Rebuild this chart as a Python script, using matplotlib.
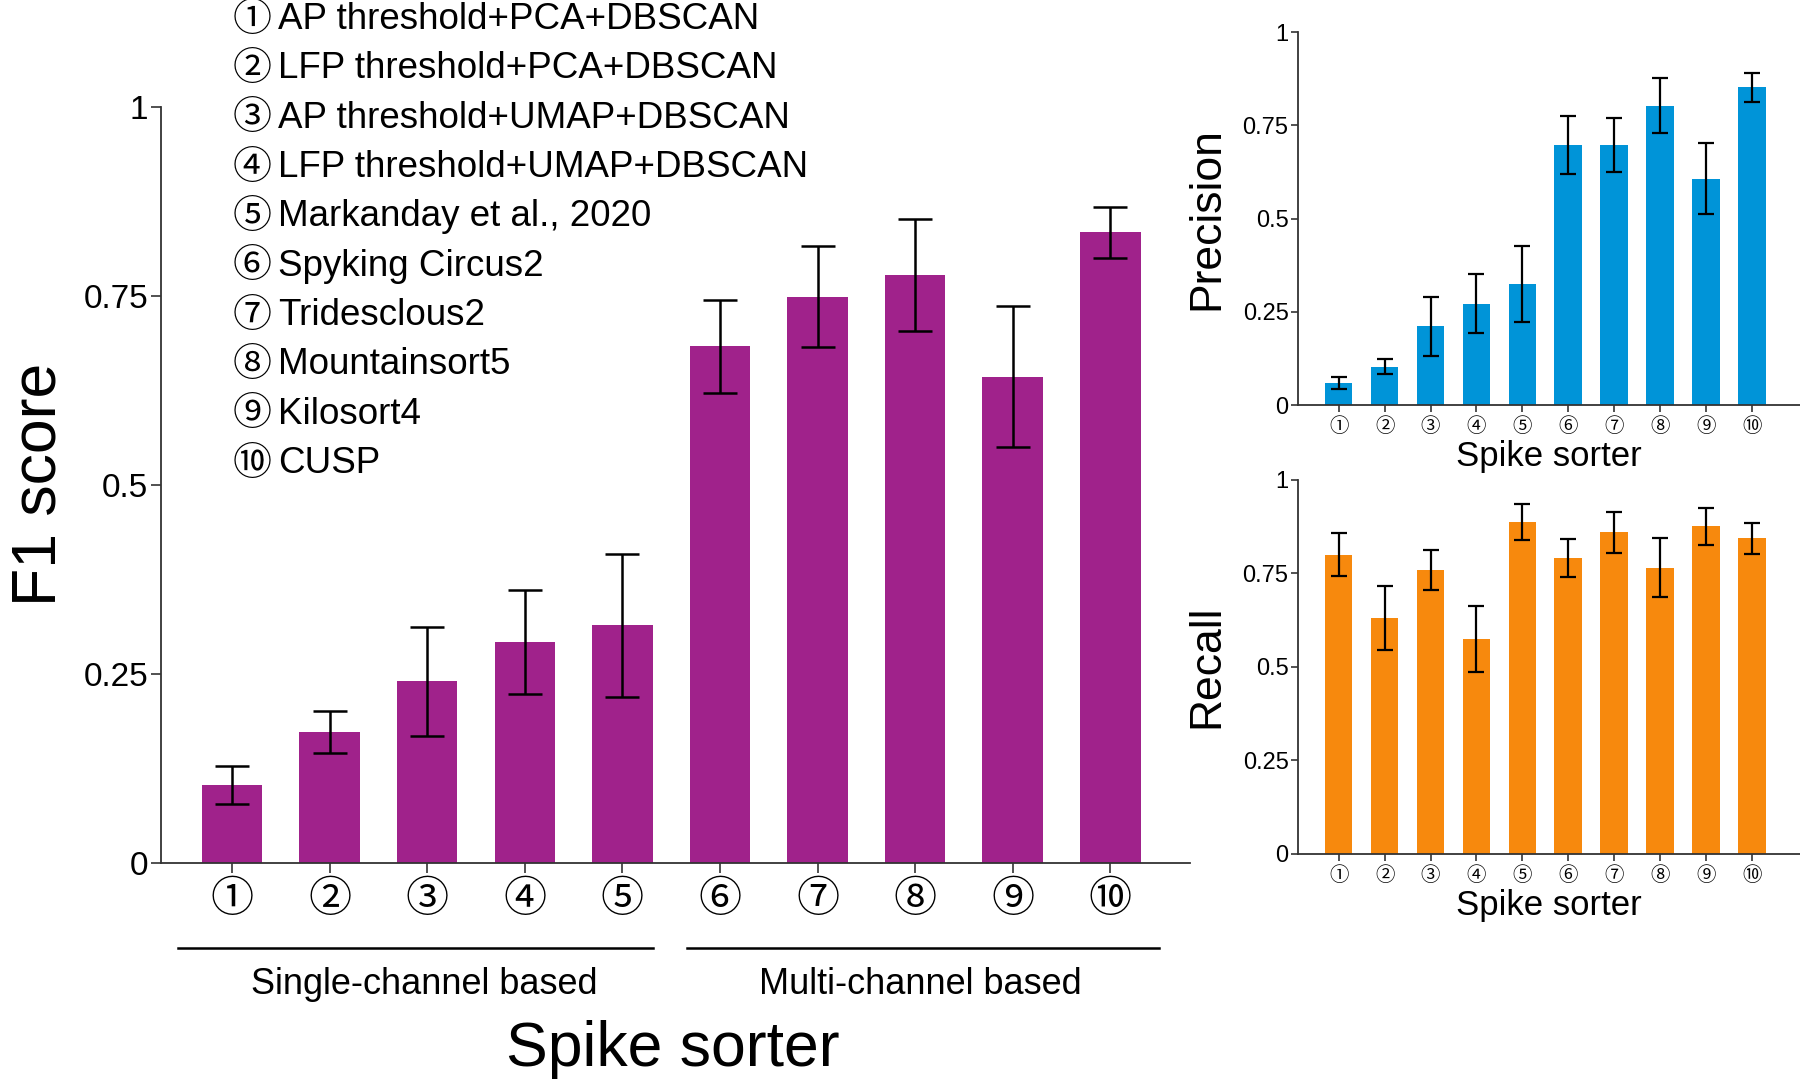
import numpy as np
import matplotlib
matplotlib.use("Agg")
import matplotlib.pyplot as plt
import matplotlib.transforms as mtransforms

plt.rcParams['font.family'] = ['Liberation Sans', 'DejaVu Sans']
circ_font = ['Noto Sans CJK JP', 'DejaVu Sans']

# circled sorter ids and names
sorter_ids = ['①', '②', '③', '④', '⑤', '⑥', '⑦', '⑧', '⑨', '⑩']
sorter_names = ['AP threshold+PCA+DBSCAN', 'LFP threshold+PCA+DBSCAN',
                'AP threshold+UMAP+DBSCAN', 'LFP threshold+UMAP+DBSCAN',
                'Markanday et al., 2020', 'Spyking Circus2', 'Tridesclous2',
                'Mountainsort5', 'Kilosort4', 'CUSP']
groups = ['Single-channel based', 'Multi-channel based']

# values (mean, error)
f1_mean = [0.103, 0.173, 0.240, 0.292, 0.314, 0.683, 0.749, 0.778, 0.643, 0.834]
f1_err = [0.025, 0.028, 0.072, 0.069, 0.094, 0.062, 0.067, 0.074, 0.093, 0.034]
prec_mean = [0.059, 0.103, 0.211, 0.272, 0.325, 0.698, 0.698, 0.803, 0.607, 0.852]
prec_err = [0.017, 0.020, 0.080, 0.079, 0.102, 0.078, 0.073, 0.073, 0.095, 0.038]
rec_mean = [0.800, 0.630, 0.759, 0.574, 0.887, 0.791, 0.859, 0.765, 0.875, 0.843]
rec_err = [0.058, 0.086, 0.054, 0.089, 0.049, 0.050, 0.056, 0.078, 0.049, 0.041]

yticks = [0, 0.25, 0.5, 0.75, 1]
ytick_labels = ['0', '0.25', '0.5', '0.75', '1']

purple = '#A0228B'
blue = '#0094D8'
orange = '#F7890D'
spine_col = '#333333'

fig = plt.figure(figsize=(18, 10.89), dpi=100)


def style_axes(ax, tick_size, xtick_size, tick_len, xpad):
    for s in ['top', 'right']:
        ax.spines[s].set_visible(False)
    for s in ['left', 'bottom']:
        ax.spines[s].set_color(spine_col)
        ax.spines[s].set_linewidth(1.3)
    ax.set_ylim(0, 1)
    ax.set_yticks(yticks)
    ax.set_yticklabels(ytick_labels)
    ax.tick_params(axis='y', labelsize=tick_size, length=tick_len, width=1.2,
                   color=spine_col, pad=2)
    ax.set_xticks(x)
    ax.set_xticklabels(sorter_ids, family=circ_font, fontsize=xtick_size)
    ax.tick_params(axis='x', length=tick_len, width=1.2, color=spine_col,
                   pad=xpad)


x = np.arange(len(sorter_ids))

# main F1 panel
ax = fig.add_axes([0.0893, 0.2076, 0.572, 0.6944])
ax.bar(x, f1_mean, width=0.62, color=purple)
ax.errorbar(x, f1_mean, yerr=f1_err, fmt='none', ecolor='black',
            elinewidth=1.8, capsize=12, capthick=1.8)
ax.set_xlim(-0.73, 9.82)
style_axes(ax, 24, 31, 7, 4)
ax.set_ylabel('F1 score', fontsize=45)
ax.yaxis.set_label_coords(-0.09, 0.5)

trans = mtransforms.blended_transform_factory(ax.transData, fig.transFigure)
ax.plot([-0.55, 4.31], [0.1296, 0.1296], color='black', lw=1.8,
        transform=trans, clip_on=False)
ax.plot([4.66, 9.5], [0.1296, 0.1296], color='black', lw=1.8,
        transform=trans, clip_on=False)
ax.text(1.97, 0.096, groups[0], fontsize=26, ha='center', va='center',
        transform=trans)
ax.text(7.05, 0.096, groups[1], fontsize=26, ha='center', va='center',
        transform=trans)
fig.text(0.374, 0.036, 'Spike sorter', fontsize=45, ha='center', va='center')

# legend list of sorters
for i, (sid, name) in enumerate(zip(sorter_ids, sorter_names)):
    yy = 0.982 - i * 0.0453
    fig.text(0.1290, yy, sid, fontsize=28, family=circ_font,
             ha='left', va='center')
    fig.text(0.1545, yy, name, fontsize=26.5, ha='left', va='center')

# precision panel
axp = fig.add_axes([0.7213, 0.628, 0.2787, 0.3425])
axp.bar(x, prec_mean, width=0.6, color=blue)
axp.errorbar(x, prec_mean, yerr=prec_err, fmt='none', ecolor='black',
             elinewidth=1.6, capsize=5.5, capthick=1.6)
axp.set_xlim(-0.88, 10.05)
style_axes(axp, 17, 14, 5, 3)
axp.set_xlabel('Spike sorter', fontsize=25, labelpad=2)
axp.set_ylabel('Precision', fontsize=32)
axp.yaxis.set_label_coords(-0.141, 0.5)

# recall panel
axr = fig.add_axes([0.7213, 0.216, 0.2787, 0.3435])
axr.bar(x, rec_mean, width=0.6, color=orange)
axr.errorbar(x, rec_mean, yerr=rec_err, fmt='none', ecolor='black',
             elinewidth=1.6, capsize=5.5, capthick=1.6)
axr.set_xlim(-0.88, 10.05)
style_axes(axr, 17, 14, 5, 3)
axr.set_xlabel('Spike sorter', fontsize=25, labelpad=2)
axr.set_ylabel('Recall', fontsize=32)
axr.yaxis.set_label_coords(-0.141, 0.5)

fig.savefig('out.png', dpi=100)
